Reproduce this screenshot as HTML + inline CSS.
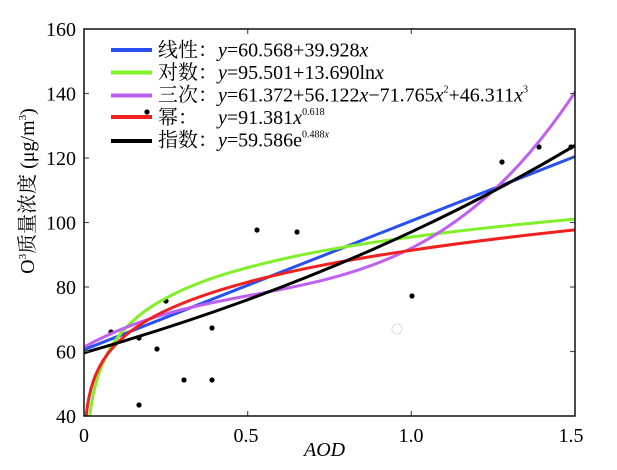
<!DOCTYPE html>
<html><head><meta charset="utf-8"><style>
html,body{margin:0;padding:0;background:#fff;}
svg{display:block;}
text{font-family:"Liberation Serif","Noto Serif CJK SC",serif;fill:#000;}
</style></head><body>
<svg width="617" height="470" viewBox="0 0 617 470" xmlns="http://www.w3.org/2000/svg">
<defs><clipPath id="pa"><rect x="84" y="29" width="491" height="387"/></clipPath></defs>
<rect x="0" y="0" width="617" height="470" fill="#fff"/>

<!-- data points -->
<g fill="#000">
<circle cx="111" cy="332" r="2.6"/>
<circle cx="139" cy="338" r="2.6"/>
<circle cx="139" cy="405" r="2.6"/>
<circle cx="157" cy="349" r="2.6"/>
<circle cx="166" cy="301" r="2.6"/>
<circle cx="184" cy="380" r="2.6"/>
<circle cx="212" cy="328" r="2.6"/>
<circle cx="212" cy="380" r="2.6"/>
<circle cx="257" cy="230" r="2.6"/>
<circle cx="297" cy="232" r="2.6"/>
<circle cx="412" cy="296" r="2.6"/>
<circle cx="502" cy="162" r="2.6"/>
<circle cx="539" cy="147" r="2.6"/>
<circle cx="571" cy="147" r="2.6"/>
<circle cx="147" cy="112" r="2.6"/>
</g>
<circle cx="397" cy="329" r="5" fill="none" stroke="#ddd" stroke-width="1"/>

<!-- curves -->
<g clip-path="url(#pa)" fill="none" stroke-width="3" stroke-linejoin="round" stroke-linecap="round">
<path stroke="#2850f0" d="M84,349.67 L575,156.52"/>
<path stroke="#80f028" d="M89.68,416 C91.06,405.28 92.44,398.03 93.82,391.83 C97.09,377.11 100.37,368.58 103.64,361.22 C110.73,345.27 117.83,336.47 124.92,328.82 C138.56,314.11 152.19,305.57 165.83,298.21 C193.11,283.49 220.39,274.97 247.67,267.61 C302.22,252.89 356.78,244.37 411.33,237.01 C465.89,229.65 520.44,224.02 575,219.11"/>
<path stroke="#c060f0" d="M84,347.08 C247.67,256.58 411.33,339.66 575,92.26"/>
<path stroke="#f02020" d="M86.19,416 C87.10,407.18 88.0,402.11 88.91,397.62 C90.55,389.51 92.18,384.31 93.82,379.76 C97.09,370.67 100.37,364.82 103.64,359.73 C110.73,348.69 117.83,341.87 124.92,335.89 C138.56,324.39 152.19,317.0 165.83,310.55 C193.11,297.65 220.39,289.37 247.67,282.14 C302.22,267.68 356.78,258.40 411.33,250.30 C465.89,242.20 520.44,235.68 575,229.90"/>
<path stroke="#000" d="M84,352.83 C138.56,337.20 193.11,319.68 247.67,299.73 C302.23,279.78 356.77,257.41 411.33,231.95 C465.89,206.49 520.44,177.95 575,145.45"/>
</g>

<!-- ticks -->
<g stroke="#555" stroke-width="1.2">
<line x1="84" y1="351.5" x2="89" y2="351.5"/>
<line x1="84" y1="287" x2="89" y2="287"/>
<line x1="84" y1="222.5" x2="89" y2="222.5"/>
<line x1="84" y1="158" x2="89" y2="158"/>
<line x1="84" y1="93.5" x2="89" y2="93.5"/>
<line x1="575" y1="351.5" x2="570" y2="351.5"/>
<line x1="575" y1="287" x2="570" y2="287"/>
<line x1="575" y1="222.5" x2="570" y2="222.5"/>
<line x1="575" y1="158" x2="570" y2="158"/>
<line x1="575" y1="93.5" x2="570" y2="93.5"/>
<line x1="247.67" y1="416" x2="247.67" y2="411"/>
<line x1="411.33" y1="416" x2="411.33" y2="411"/>
<line x1="247.67" y1="29" x2="247.67" y2="34"/>
<line x1="411.33" y1="29" x2="411.33" y2="34"/>
</g>

<!-- frame -->
<rect x="84" y="29" width="491" height="387" fill="none" stroke="#111" stroke-width="1.5"/>

<!-- y tick labels -->
<g font-size="20" text-anchor="end">
<text x="76" y="36">160</text>
<text x="76" y="100.5">140</text>
<text x="76" y="165">120</text>
<text x="76" y="229.5">100</text>
<text x="76" y="294">80</text>
<text x="76" y="358.5">60</text>
<text x="76" y="423">40</text>
</g>
<!-- x tick labels -->
<g font-size="20" text-anchor="middle">
<text x="84" y="442">0</text>
<text x="246" y="442">0.5</text>
<text x="411" y="442">1.0</text>
<text x="571" y="442">1.5</text>
</g>
<text x="304" y="456" font-size="20" font-style="italic">AOD</text>

<!-- y axis label -->
<text transform="translate(34,191) rotate(-90)" font-size="20" text-anchor="middle">O<tspan font-size="11" dy="-8">3</tspan><tspan dy="8">质量浓度 (μg/m</tspan><tspan font-size="11" dy="-8">3</tspan><tspan dy="8">)</tspan></text>

<!-- legend -->
<g stroke-width="4" stroke-linecap="butt">
<line x1="111" y1="50" x2="152" y2="50" stroke="#2850f0"/>
<line x1="111" y1="72.5" x2="152" y2="72.5" stroke="#80f028"/>
<line x1="111" y1="95.5" x2="152" y2="95.5" stroke="#c060f0"/>
<line x1="111" y1="117" x2="152" y2="117" stroke="#f02020"/>
<line x1="111" y1="141" x2="152" y2="141" stroke="#000"/>
</g>
<g font-size="20">
<text x="158" y="56.5">线性：</text>
<text x="218" y="56.5"><tspan font-style="italic">y</tspan>=60.568+39.928<tspan font-style="italic">x</tspan></text>
<text x="158" y="79">对数：</text>
<text x="218" y="79"><tspan font-style="italic">y</tspan>=95.501+13.690ln<tspan font-style="italic">x</tspan></text>
<text x="158" y="101.5">三次：</text>
<text x="218" y="101.5"><tspan font-style="italic">y</tspan>=61.372+56.122<tspan font-style="italic">x</tspan>−71.765<tspan font-style="italic">x</tspan><tspan font-size="10" dy="-9">2</tspan><tspan dy="9">+46.311</tspan><tspan font-style="italic">x</tspan><tspan font-size="10" dy="-9">3</tspan></text>
<text x="158" y="124">幂：</text>
<text x="218" y="124"><tspan font-style="italic">y</tspan>=91.381<tspan font-style="italic">x</tspan><tspan font-size="10" dy="-9">0.618</tspan></text>
<text x="158" y="146.5">指数：</text>
<text x="218" y="146.5"><tspan font-style="italic">y</tspan>=59.586e<tspan font-size="10" dy="-9">0.488</tspan><tspan font-size="10" font-style="italic">x</tspan></text>
</g>
</svg>
</body></html>
